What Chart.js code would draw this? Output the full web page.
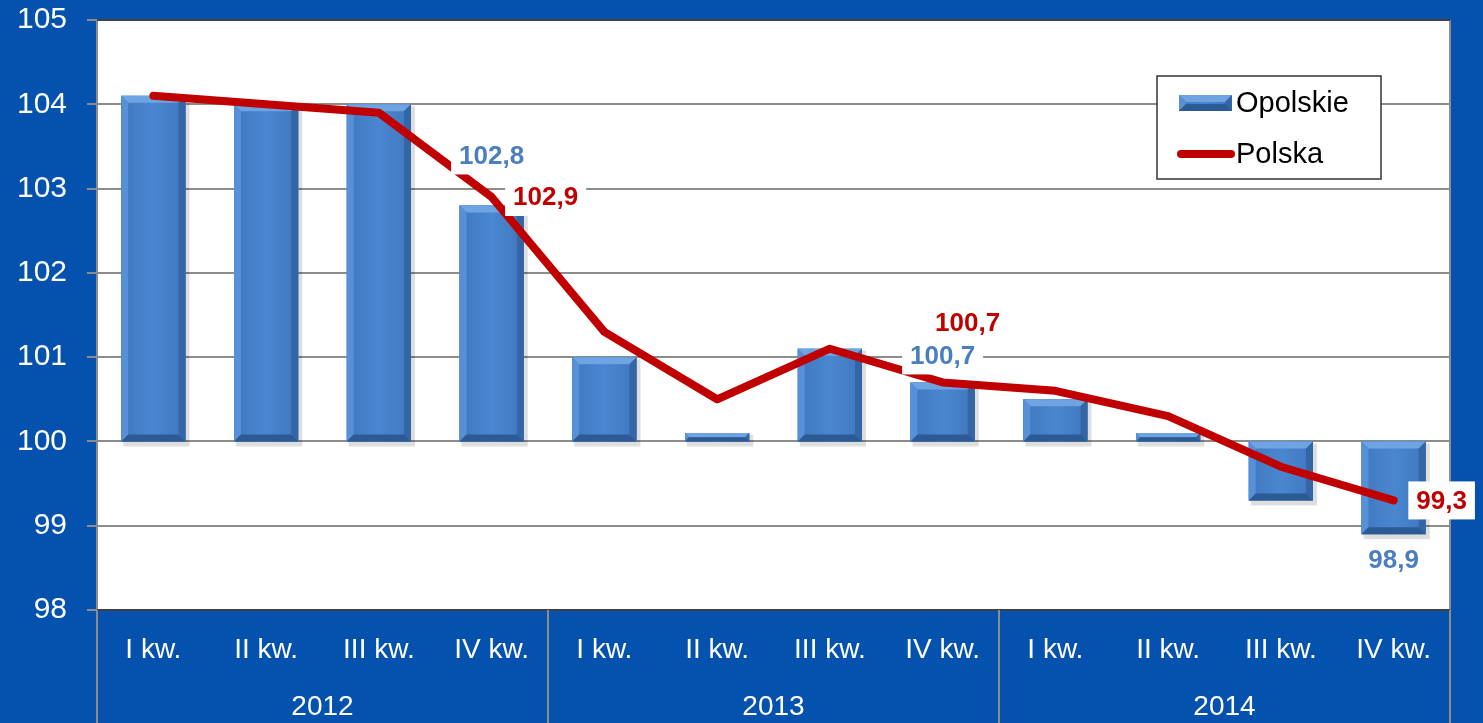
<!DOCTYPE html>
<html lang="pl">
<head>
<meta charset="UTF-8">
<title>Opolskie i Polska - kwartały 2012-2014</title>
<script src="https://cdn.jsdelivr.net/npm/chart.js"></script>
<style>
    html, body { margin: 0; padding: 0; background: #0452ad; }
    canvas { display: block; }
</style>
</head>
<body>
<canvas id="wykres" width="1483" height="723"></canvas>
<script>
    // DANE
    const kwartaly = ['I kw.', 'II kw.', 'III kw.', 'IV kw.', 'I kw.', 'II kw.', 'III kw.', 'IV kw.', 'I kw.', 'II kw.', 'III kw.', 'IV kw.'];
    const lata = ['2012', '2013', '2014'];
    const opolskie = [104.1, 104.0, 104.0, 102.8, 101.0, 100.1, 101.1, 100.7, 100.5, 100.1, 99.3, 98.9];
    const polska = [104.1, 104.0, 103.9, 102.9, 101.3, 100.5, 101.1, 100.7, 100.6, 100.3, 99.7, 99.3];
    const yMin = 98, yMax = 105, yKrok = 1;
    const poziomBazowy = 100;               // słupki wychodzą od 100
    const etykietyOpolskie = [3, 7, 11];    // które słupki mają etykietę
    const etykietyPolska = [3, 7, 11];      // które punkty linii mają etykietę

    const FONT = '"Liberation Sans", Arial, sans-serif';
    const TLO = '#0452ad';
    const NIEBIESKI_TXT = '#4a7ebf';
    const CZERWONY = '#c00000';

    // słupek z fazowaniem (jak w Excelu)
    function rysujSlupek(ctx, l, t, r, b) {
        const w = r - l, h = b - t;
        const d = Math.max(0, Math.min(7, h / 2, w / 2));
        const g = ctx.createLinearGradient(l, 0, r, 0);
        g.addColorStop(0, '#3f77be');
        g.addColorStop(0.5, '#4a87d1');
        g.addColorStop(1, '#3f77be');
        ctx.fillStyle = g;
        ctx.fillRect(l, t, w, h);
        const poly = (pts, kolor) => {
            ctx.beginPath();
            ctx.moveTo(pts[0], pts[1]);
            for (let i = 2; i < pts.length; i += 2) ctx.lineTo(pts[i], pts[i + 1]);
            ctx.closePath();
            ctx.fillStyle = kolor;
            ctx.fill();
        };
        poly([l, t, r, t, r - d, t + d, l + d, t + d], '#6ea4e2');
        poly([l, t, l + d, t + d, l + d, b - d, l, b], '#5790d6');
        poly([r, t, r - d, t + d, r - d, b - d, r, b], '#3466a6');
        poly([l, b, l + d, b - d, r - d, b - d, r, b], '#2c5a95');
    }

    // tło wykresu
    const tloPlugin = {
        id: 'tlo',
        beforeDraw(chart) {
            const { ctx, chartArea: a } = chart;
            ctx.save();
            ctx.fillStyle = TLO;
            ctx.fillRect(0, 0, chart.width, chart.height);
            ctx.fillStyle = '#ffffff';
            ctx.fillRect(a.left, a.top, a.right - a.left, a.bottom - a.top);
            ctx.restore();
        }
    };

    // cień i fazowanie słupków
    const fazowaniePlugin = {
        id: 'fazowanie',
        beforeDatasetDraw(chart, args) {
            if (args.index !== 0) return;
            const ctx = chart.ctx;
            ctx.save();
            ctx.fillStyle = 'rgba(0,0,0,0.13)';
            args.meta.data.forEach(el => {
                const p = el.getProps(['x', 'y', 'base', 'width'], true);
                const t = Math.min(p.y, p.base), b = Math.max(p.y, p.base);
                ctx.fillRect(p.x - p.width / 2 + 2, t + 2, p.width + 2, b - t + 3);
            });
            ctx.restore();
        },
        afterDatasetDraw(chart, args) {
            if (args.index !== 0) return;
            const ctx = chart.ctx;
            ctx.save();
            args.meta.data.forEach(el => {
                const p = el.getProps(['x', 'y', 'base', 'width'], true);
                rysujSlupek(ctx, p.x - p.width / 2, Math.min(p.y, p.base), p.x + p.width / 2, Math.max(p.y, p.base));
            });
            ctx.restore();
        }
    };

    function etykieta(ctx, tekst, cx, cy, kolor) {
        ctx.font = 'bold 26px ' + FONT;
        const w = ctx.measureText(tekst).width;
        ctx.fillStyle = '#ffffff';
        ctx.fillRect(cx - w / 2 - 8, cy - 19, w + 16, 38);
        ctx.fillStyle = kolor;
        ctx.textAlign = 'center';
        ctx.textBaseline = 'middle';
        ctx.fillText(tekst, cx, cy + 1);
    }
    const fmt = v => v.toFixed(1).replace('.', ',');

    // etykiety danych, ramka wykresu, lata, legenda
    const dodatkiPlugin = {
        id: 'dodatki',
        afterDraw(chart) {
            const { ctx, chartArea: a } = chart;
            const x = chart.scales.x, y = chart.scales.y;
            ctx.save();

            // ramka obszaru wykresu
            ctx.lineWidth = 2;
            ctx.strokeStyle = '#8c8c8c';
            ctx.beginPath();
            ctx.moveTo(a.left, a.top); ctx.lineTo(a.left, a.bottom);
            ctx.moveTo(a.right, a.top); ctx.lineTo(a.right, a.bottom);
            ctx.stroke();
            ctx.strokeStyle = '#404040';
            ctx.beginPath();
            ctx.moveTo(a.left, a.top); ctx.lineTo(a.right, a.top);
            ctx.moveTo(a.left, a.bottom); ctx.lineTo(a.right, a.bottom);
            ctx.stroke();

            // separatory lat i podpisy lat
            ctx.strokeStyle = '#8c8c8c';
            ctx.fillStyle = '#ffffff';
            ctx.font = '28px ' + FONT;
            ctx.textAlign = 'center';
            ctx.textBaseline = 'middle';
            const polowa = (x.getPixelForValue(1) - x.getPixelForValue(0)) / 2;
            lata.forEach((rok, i) => {
                const p0 = x.getPixelForValue(i * 4) - polowa;
                const p1 = x.getPixelForValue(i * 4 + 3) + polowa;
                ctx.beginPath();
                ctx.moveTo(p0, a.bottom); ctx.lineTo(p0, chart.height);
                ctx.moveTo(p1, a.bottom); ctx.lineTo(p1, chart.height);
                ctx.stroke();
                ctx.fillText(rok, (p0 + p1) / 2, 707);
            });

            // etykiety danych
            const mLin = chart.getDatasetMeta(1).data;
            const przesBar = [-50, -27, 26];
            const przesLin = [[54, 0], [25, -60], [48, 0]];
            etykietyOpolskie.forEach((i, k) => {
                etykieta(ctx, fmt(opolskie[i]), x.getPixelForValue(i), y.getPixelForValue(opolskie[i]) + przesBar[k], NIEBIESKI_TXT);
            });
            etykietyPolska.forEach((i, k) => {
                etykieta(ctx, fmt(polska[i]), mLin[i].x + przesLin[k][0], mLin[i].y + przesLin[k][1], CZERWONY);
            });

            // legenda
            const lx = 1157, ly = 76, lw = 224, lh = 103;
            ctx.fillStyle = '#ffffff';
            ctx.fillRect(lx, ly, lw, lh);
            ctx.lineWidth = 1.5;
            ctx.strokeStyle = '#333333';
            ctx.strokeRect(lx, ly, lw, lh);
            rysujSlupek(ctx, 1179, 95, 1232, 111);
            ctx.strokeStyle = CZERWONY;
            ctx.lineWidth = 8;
            ctx.lineCap = 'round';
            ctx.beginPath();
            ctx.moveTo(1181, 154); ctx.lineTo(1231, 154);
            ctx.stroke();
            ctx.fillStyle = '#000000';
            ctx.font = '29px ' + FONT;
            ctx.textAlign = 'left';
            ctx.fillText(chart.data.datasets[0].label, 1236, 104);
            ctx.fillText(chart.data.datasets[1].label, 1236, 155);

            ctx.restore();
        }
    };

    const config = {
        type: 'bar',
        data: {
            labels: kwartaly,
            datasets: [
                {
                    label: 'Opolskie',
                    type: 'bar',
                    data: opolskie.map(v => [poziomBazowy, v]),
                    backgroundColor: '#4682cc',
                    borderWidth: 0,
                    barPercentage: 0.57,
                    categoryPercentage: 1,
                    order: 2
                },
                {
                    label: 'Polska',
                    type: 'line',
                    data: polska,
                    borderColor: CZERWONY,
                    borderWidth: 8,
                    borderCapStyle: 'round',
                    borderJoinStyle: 'round',
                    pointRadius: 0,
                    tension: 0,
                    order: 1
                }
            ]
        },
        options: {
            responsive: false,
            animation: false,
            devicePixelRatio: 1,
            layout: { padding: { top: 20, right: 33, left: 0, bottom: 0 } },
            plugins: {
                legend: { display: false },
                tooltip: { enabled: false }
            },
            scales: {
                x: {
                    offset: true,
                    grid: { display: false, drawTicks: false },
                    border: { display: false },
                    ticks: {
                        color: '#ffffff',
                        font: { family: FONT, size: 28 },
                        padding: 23,
                        maxRotation: 0,
                        autoSkip: false
                    },
                    afterFit: s => { s.height = 113; }
                },
                y: {
                    min: yMin,
                    max: yMax,
                    ticks: {
                        stepSize: yKrok,
                        color: '#ffffff',
                        font: { family: FONT, size: 30 },
                        padding: 20
                    },
                    grid: { color: '#8c8c8c', lineWidth: 2, tickLength: 10 },
                    border: { display: false },
                    afterFit: s => { s.width = 97; s.paddingTop = 0; s.paddingBottom = 0; }
                }
            }
        },
        plugins: [tloPlugin, fazowaniePlugin, dodatkiPlugin]
    };

    const wykres = new Chart(document.getElementById('wykres'), config);
</script>
</body>
</html>
